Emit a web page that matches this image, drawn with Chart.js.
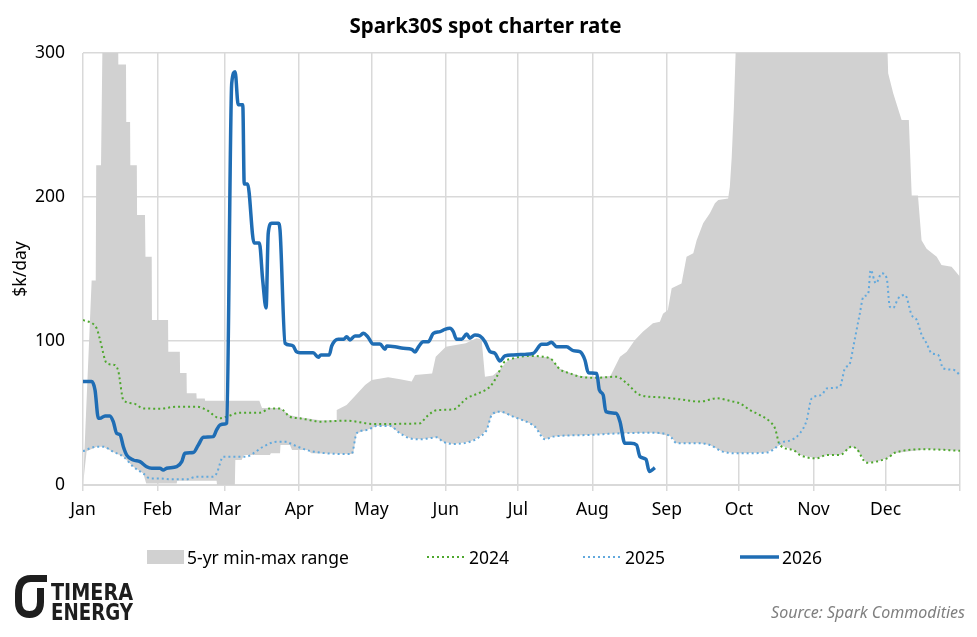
<!DOCTYPE html>
<html>
<head>
<meta charset="utf-8">
<script src="https://cdn.jsdelivr.net/npm/chart.js@4.4.1/dist/chart.umd.min.js"></script>
<style>
  html, body { margin: 0; padding: 0; background: #fff; }
  #wrap { position: relative; width: 977px; height: 637px; font-family: "Noto Sans", sans-serif; overflow: hidden; }
  #wrap canvas { position: absolute; left: 0; top: 0; }
  #legend { position: absolute; left: 0; top: 544px; width: 977px; height: 26px; font-size: 17.5px; color: #000; }
  .lg { position: absolute; top: 0; height: 26px; display: flex; align-items: center; white-space: nowrap; }
  .lg svg { margin-right: 3px; }
  #logo { position: absolute; left: 10px; top: 570px; }
  #source { position: absolute; right: 12px; top: 601px; font-size: 16px; font-style: italic; color: #7f7f7f; }
</style>
</head>
<body>
<div id="wrap">
  <canvas id="sparkChart" width="977" height="637"></canvas>
  <div id="legend"></div>
  <svg id="logo" width="130" height="54" viewBox="0 0 130 54">
    <path d="M37 8.5 H21 C12.5 8.5 8.5 14 8.5 24 V32 C8.5 41 13 44.5 19.5 44.5 C26 44.5 30.5 41 30.5 32 V18" fill="none" stroke="#1e1e1e" stroke-width="7"/>
    <text x="41" y="30" font-family="DejaVu Sans Condensed, DejaVu Sans" font-weight="bold" font-size="23" fill="#1e1e1e" textLength="82" lengthAdjust="spacingAndGlyphs">TIMERA</text>
    <text x="41" y="50" font-family="DejaVu Sans Condensed, DejaVu Sans" font-weight="bold" font-size="23" fill="#1e1e1e" textLength="82" lengthAdjust="spacingAndGlyphs">ENERGY</text>
  </svg>
  <div id="source">Source: Spark Commodities</div>
</div>
<script>
// x values are day-of-year (0 = 1 Jan), y values in $k/day
const monthStarts = [0, 31, 59, 90, 120, 151, 181, 212, 243, 273, 304, 334, 365];
const monthLabels = ["Jan", "Feb", "Mar", "Apr", "May", "Jun", "Jul", "Aug", "Sep", "Oct", "Nov", "Dec", ""];
const yTicks = [0, 100, 200, 300];

// 5-yr range upper edge
const bandMaxDays = [0, 3.6, 5.3, 5.5, 7.5, 8.2, 14.6, 14.7, 17.9, 18.0, 19.6, 19.7, 22.4, 22.5, 25.8, 26.0, 28.6, 28.7, 35.4, 35.5,
  40.3, 40.4, 43.1, 43.2, 47.2, 47.3, 50.7, 50.8, 73.4, 74.5, 82, 86.1, 90.3, 98.6, 105.5, 105.6, 109.7, 113.2, 117.4, 120.2,
  127, 132, 136.8, 138.2, 145.3, 146.8, 151, 159.3, 163.8, 165.9, 167.3, 170.6, 173.5, 176.3, 179.1, 186, 194.3, 198.5, 202.7, 206.8,
  213.8, 219.5, 223.5, 226.3, 229.7, 233, 237.2, 240.1, 241.4, 243.4, 245, 249.1, 251.2, 254, 255.4, 256.8, 258.1, 260.9, 263, 264.4,
  268.5, 269.2, 270, 270.9, 272, 334.5, 335.1, 337.2, 340.7, 343.7, 344.9, 347.5, 349, 351.1, 355.3, 357.3, 361.5, 365];
const bandMax = [0, 142, 142, 222, 222, 320, 320, 292, 292, 252, 252, 222, 222, 187.5, 187.5, 158.5, 158.5, 114.6, 114.6, 92.6,
  92.6, 77.7, 77.7, 63.7, 63.7, 60, 60, 58.5, 58.5, 53.5, 53.5, 48.5, 47, 45, 45, 52, 55.6, 61.8, 69.4, 73,
  74.8, 73.5, 71.8, 76.4, 77.5, 89, 96, 98.4, 101.9, 101, 75.2, 76, 80, 85.6, 88, 89.6, 88.5, 80.8, 78, 75.7,
  75, 75.7, 89, 92.6, 100.7, 106.5, 112.3, 113.4, 119, 121.5, 136.6, 140, 158.5, 161, 170, 176, 181.7, 188.7, 195.6, 198,
  199, 207, 228, 262.7, 320, 320, 286, 272, 253.5, 253.5, 201, 201, 170, 164, 158.5, 152.8, 151.6, 144.7];

// 5-yr range lower edge
const bandMinDays = [0, 1.5, 5.7, 8.4, 12.6, 16.8, 20.9, 25.1, 26.3, 39, 39.2, 55.6, 55.8, 63.2, 63.4, 66, 67, 77.8, 78.2, 82,
  82.2, 86.1, 87, 93.5, 95, 112.4, 113.9, 118.1, 122.2, 127.8, 131.9, 136.1, 140.2, 147.2, 149.9, 154.1, 161, 165.2, 168, 170.1,
  173.5, 179.1, 186, 188.1, 192.3, 195.7, 209.6, 223.5, 237.3, 244.3, 247.1, 256.8, 260.9, 266.5, 273.4, 284.5, 288, 290, 295.6, 298.4,
  305.3, 309.5, 315, 319.9, 322, 326.1, 331.7, 335.8, 337.2, 351.1, 365];
const bandMin = [0, 23.5, 26.6, 26.6, 23, 19.7, 12.7, 8, 1, 1, 3, 3, 0, 0, 17.4, 17.4, 20.8, 20.8, 22, 22,
  27.8, 27.8, 24.3, 24.3, 22, 21.5, 35.9, 38.2, 41, 41, 35.9, 32.4, 31.7, 33.1, 30, 28.5, 30, 33.6, 38.2, 48.6,
  50.9, 47.4, 42.8, 40.5, 31.7, 33.6, 34.7, 35.9, 36.3, 34, 29, 29, 27.8, 23, 22, 22.5, 25.5, 27.8, 24.3, 20.8,
  18.5, 20.8, 20.8, 26.6, 25, 15.5, 16.9, 19.7, 22, 24.8, 23.8];

const days2024 = [0, 5.7, 7.1, 9.9, 13.3, 14.7, 16.8, 20.9, 25.1, 32, 39, 47.3, 51.5, 57, 59.8, 65.3, 73.7, 77.8, 82, 86.1,
  90.3, 94.5, 98.6, 109.7, 120.8, 140.2, 143, 147.2, 154.1, 159.7, 165.2, 169.4, 172.2, 174.9, 179.1, 186, 194.3, 198.5, 202.7, 206.8,
  213.8, 222.1, 226.3, 231.8, 240.1, 248.4, 256.8, 263.7, 270.6, 273.4, 277.6, 281.7, 285.9, 288, 290, 295.6, 298.4, 305.3, 309.5, 315,
  319.9, 322, 326.1, 331.7, 335.8, 337.2, 351.1, 365];
const rate2024 = [114.6, 108.8, 100.7, 84.5, 83.3, 79, 59, 56.7, 53.2, 53, 54.4, 54.4, 52, 46.3, 47.5, 50.2, 50.2, 53.2, 53.2, 47.4,
  46.3, 45, 44, 44.7, 42.4, 42.8, 47.4, 52, 52.5, 60.2, 64.1, 68.3, 75.2, 84.5, 88, 89.6, 88, 80.3, 77.5, 75.2,
  74.5, 75.2, 70.6, 62.5, 60.9, 59.5, 57.9, 60.2, 57.9, 56.7, 52, 48.6, 44, 39.4, 27.8, 24.3, 20.8, 18.5, 20.8, 20.8,
  26.6, 25, 15.5, 16.9, 19.7, 22, 24.8, 23.8];

const days2025 = [0, 5.7, 8.4, 12.6, 16.8, 20.9, 25.1, 27.9, 32, 36.2, 43.2, 47.3, 54.2, 55.6, 58.4, 68.1, 70.9, 75, 80.6, 84.8,
  86.1, 93.1, 98.6, 109.7, 111.8, 113.9, 118.1, 122.2, 127.8, 131.9, 136.1, 140.2, 147.2, 149.9, 154.1, 161, 165.2, 168, 170.1, 173.5,
  179.1, 186, 188.1, 192.3, 195.7, 209.6, 223.5, 237.3, 244.3, 247.1, 256.8, 260.9, 266.5, 273.4, 284.5, 288, 290, 294.9, 298.4, 301.2,
  303.2, 307.4, 309.5, 315, 317.1, 319.2, 320.6, 323.3, 324.8, 326.8, 327.8, 330, 332.4, 334.5, 335.8, 337.2, 339.3, 342.1, 344.9, 347,
  349.1, 351.1, 353.2, 355.9, 358, 362.2, 365];
const rate2025 = [23.5, 26.6, 26.6, 23, 19.7, 12.7, 8, 4.6, 4.6, 4, 4, 5.8, 5.8, 8, 19.7, 19.7, 22, 26.6, 30, 30,
  29, 24.3, 22.5, 21.5, 21.5, 35.9, 38.2, 41, 41, 35.9, 32.4, 31.7, 33.1, 30, 28.5, 30, 33.6, 38.2, 48.6, 50.9,
  47.4, 42.8, 40.5, 31.7, 33.6, 34.7, 35.9, 36.3, 34, 29, 29, 27.8, 23, 22, 22.5, 25.5, 29, 31.3, 36, 45,
  60, 62.5, 67, 68.3, 81, 84.5, 96, 119, 130.8, 133, 149.3, 140, 147, 143.5, 123.8, 123, 129.6, 132, 118, 114.6,
  104, 98.4, 91.4, 90.3, 81, 80, 76.4];

const days2026 = [0, 3.6, 5, 6.4, 7, 9.2, 11.2, 12.6, 14, 15.4, 16.8, 18.2, 20.9, 23.7, 26.5, 28.6, 32, 33.4, 34.8, 39,
  41.1, 42.4, 45.9, 48, 50.1, 54.2, 55.6, 57, 59.1, 59.8, 61.9, 63.3, 64.6, 66.5, 67.1, 68.5, 71.2, 73.4, 74.8, 76.2,
  77.1, 78.5, 81.3, 82, 84.1, 86.1, 87.5, 88.8, 90.3, 95.8, 97.9, 99, 102.5, 103.5, 106.2, 108.5, 109.7, 111.1, 113.2, 115,
  116.6, 118.5, 120.8, 123.6, 125.7, 126.4, 129.8, 133.3, 136.8, 138.2, 139.5, 141.6, 143.7, 145.8, 148.6, 150.6, 152.7, 154.1, 155.5, 157.6,
  159.7, 161, 163.1, 165.2, 167.3, 169.4, 171.4, 173.5, 175.6, 179.1, 183.9, 187.4, 190.9, 193, 195, 197.1, 201.3, 204, 206.8, 208.9,
  210.3, 213.8, 214.9, 216.5, 217.6, 221.8, 223.5, 225.5, 228, 230.4, 231.8, 234.3, 235.7, 236.5, 238];
const rate2026 = [71.8, 71.8, 66, 46.3, 46.3, 48, 48, 44, 35.9, 35, 26.6, 20.8, 17.4, 16.2, 12.7, 11.6, 11.6, 10.4, 11.6, 12.7,
  16.2, 22, 22.5, 27.8, 33.1, 33.6, 38.2, 41.7, 42.4, 43, 279, 287, 264, 264, 209, 209, 168, 168, 142, 123,
  175, 181.7, 181.7, 177, 98.4, 97.2, 96.5, 92.6, 91.9, 91.9, 88.7, 90.3, 90.3, 96.5, 101.2, 101.2, 103, 100.7, 103.5, 103.5,
  105.3, 103, 97.9, 97.9, 94.2, 96.5, 96, 94.9, 94.2, 92.4, 95.6, 99.5, 99.5, 105.3, 106.5, 108.1, 108.8, 106.5, 101.2, 101.2,
  104.9, 101.9, 104.2, 103.5, 99.5, 92.6, 91.5, 86.1, 89.6, 90.3, 90.7, 91.4, 97.7, 97.7, 99.1, 96, 96, 93.3, 92.6, 86.8,
  78, 77.5, 66, 62.5, 50.9, 49.8, 44, 29, 29, 27.8, 19.7, 17.8, 9.3, 10, 12];

const pts = (xs, ys) => xs.map((x, i) => ({ x, y: ys[i] }));

Chart.defaults.font.family = '"Noto Sans", sans-serif';
Chart.defaults.color = "#000";

const ctx = document.getElementById("sparkChart").getContext("2d");

const chart = new Chart(ctx, {
  type: "line",
  data: {
    datasets: [
      {
        label: "min",
        data: pts(bandMinDays, bandMin),
        borderColor: "rgba(0,0,0,0)",
        borderWidth: 0,
        pointRadius: 0,
        fill: false,
        order: 5,
      },
      {
        label: "5-yr min-max range",
        data: pts(bandMaxDays, bandMax),
        borderColor: "rgba(0,0,0,0)",
        backgroundColor: "#d1d1d1",
        borderWidth: 0,
        pointRadius: 0,
        fill: { target: "-1", above: "#d1d1d1", below: "#d1d1d1" },
        order: 4,
      },
      {
        label: "2024",
        data: pts(days2024, rate2024),
        borderColor: "#4ea72e",
        borderWidth: 2,
        borderDash: [2, 3],
        pointRadius: 0,
        cubicInterpolationMode: "monotone",
        fill: false,
        order: 3,
      },
      {
        label: "2025",
        data: pts(days2025, rate2025),
        borderColor: "#62a9dd",
        borderWidth: 2,
        borderDash: [2, 3],
        pointRadius: 0,
        cubicInterpolationMode: "monotone",
        fill: false,
        order: 2,
      },
      {
        label: "2026",
        data: pts(days2026, rate2026),
        borderColor: "#1f6db4",
        borderWidth: 3.5,
        pointRadius: 0,
        cubicInterpolationMode: "monotone",
        fill: false,
        order: 1,
      },
    ],
  },
  options: {
    responsive: false,
    animation: false,
    layout: { padding: { left: 11, right: 17, top: 10, bottom: 112 } },
    plugins: {
      legend: { display: false },
      tooltip: { enabled: false },
      filler: { propagate: false, drawTime: "beforeDatasetsDraw" },
      title: {
        display: true,
        text: "Spark30S spot charter rate",
        font: { size: 20.5, weight: "bold" },
        color: "#000",
        padding: { top: 5, bottom: 13.4 },
      },
    },
    scales: {
      x: {
        type: "linear",
        min: 0,
        max: 365,
        afterBuildTicks: (s) => { s.ticks = monthStarts.map((v) => ({ value: v })); },
        afterFit: (s) => { s.height = 40; },
        ticks: {
          autoSkip: false,
          maxRotation: 0,
          padding: 9,
          font: { size: 17.5 },
          color: "#000",
          callback: (v, i) => monthLabels[i],
        },
        grid: { color: "#d9d9d9", lineWidth: 1.5, tickLength: 6 },
        border: { color: "#d9d9d9", width: 2 },
      },
      y: {
        min: 0,
        max: 300,
        afterBuildTicks: (s) => { s.ticks = yTicks.map((v) => ({ value: v })); },
        afterFit: (s) => { s.width = 72; },
        ticks: { padding: 18, font: { size: 17.5 }, color: "#000" },
        grid: { color: "#d9d9d9", lineWidth: 1.5, drawTicks: false },
        border: { display: false },
        title: { display: true, text: "$k/day", font: { size: 17.5 }, color: "#000", padding: 0 },
      },
    },
  },
});

// Legend drawn as HTML from the dataset styles
(function () {
  const legend = document.getElementById("legend");
  const slots = [
    { ds: 1, left: 147 },
    { ds: 2, left: 427 },
    { ds: 3, left: 583 },
    { ds: 4, left: 740 },
  ];
  slots.forEach(({ ds, left }) => {
    const d = chart.data.datasets[ds];
    const item = document.createElement("div");
    item.className = "lg";
    item.style.left = left + "px";
    let sample;
    if (ds === 1) {
      sample = `<svg width="37" height="14"><rect x="0" y="0" width="37" height="14" fill="${d.backgroundColor}"/></svg>`;
    } else {
      const dash = d.borderDash ? `stroke-dasharray="${d.borderDash.join(",")}"` : "";
      sample = `<svg width="39" height="14"><line x1="0" y1="7" x2="39" y2="7" stroke="${d.borderColor}" stroke-width="${d.borderWidth}" ${dash}/></svg>`;
    }
    item.innerHTML = sample + `<span>${d.label}</span>`;
    legend.appendChild(item);
  });
})();
</script>
</body>
</html>
